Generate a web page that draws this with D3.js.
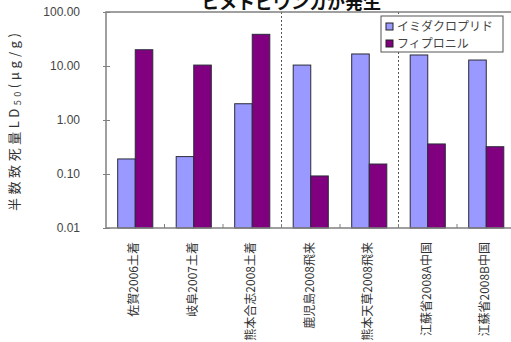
<!DOCTYPE html>
<html>
<head>
<meta charset="utf-8">
<script src="https://cdn.jsdelivr.net/npm/d3@7"></script>
<style>
  body { margin: 0; background: #fff; }
  svg { display: block; font-family: "Noto Sans CJK JP", sans-serif; }
</style>
</head>
<body>
<svg id="chart"></svg>
<script>
// Data
const categories = ["佐賀2006土着", "岐阜2007土着", "熊本合志2008土着", "鹿児島2008飛来",
                    "熊本天草2008飛来", "江蘇省2008A中国", "江蘇省2008B中国"]
const seriesNames = ["イミダクロプリド", "フィプロニル"]
const imidacloprid = [0.19, 0.21, 2.0, 10.4, 16.7, 16.0, 12.9]
const fipronil = [20, 10.4, 38.6, 0.092, 0.153, 0.36, 0.32]
const yTicks = [0.01, 0.1, 1, 10, 100]
const separatorsAfter = [2, 4]   // dashed lines after these category indices

// Canvas and plot area
const widthSvg = 511, heightSvg = 342
const margin = {top: 12, left: 106}
const bandStep = 58.5
const width = bandStep * categories.length
const height = 216
const colors = ["#9999ff", "#800080"]

const svg = d3.select("#chart")
    .attr("width", widthSvg)
    .attr("height", heightSvg)

const g = svg.append("g")
    .attr("transform", "translate(" + margin.left + "," + margin.top + ")")

// Scales
const xScale = d3.scaleBand()
    .domain(categories)
    .range([0, width])
    .paddingInner(0.4)
    .paddingOuter(0.2)

const xInner = d3.scaleBand()
    .domain(seriesNames)
    .range([0, xScale.bandwidth()])

const yScale = d3.scaleLog()
    .domain([0.01, 100])
    .range([height, 0])

// Title (cut off at the top of the picture, as in the source)
svg.append("text")
    .attr("x", 291)
    .attr("y", 9)
    .attr("text-anchor", "middle")
    .attr("font-size", "18px")
    .attr("font-weight", "bold")
    .attr("fill", "#111")
    .text("ヒメトビウンカが発生")

// Bars
const rows = categories.map((c, i) => ({cat: c, values: [imidacloprid[i], fipronil[i]]}))

const groups = g.selectAll(".grp")
    .data(rows)
    .enter()
    .append("g")
    .attr("transform", (d) => "translate(" + xScale(d.cat) + ",0)")

groups.selectAll("rect")
    .data((d) => d.values.map((v, j) => ({name: seriesNames[j], value: v, j: j})))
    .enter()
    .append("rect")
    .attr("x", (d) => xInner(d.name))
    .attr("y", (d) => yScale(d.value))
    .attr("width", xInner.bandwidth())
    .attr("height", (d) => height - yScale(d.value))
    .attr("fill", (d) => colors[d.j])
    .attr("stroke", "#2a2a3a")
    .attr("stroke-width", 1)

// Dashed separators
g.selectAll(".sep")
    .data(separatorsAfter)
    .enter()
    .append("line")
    .attr("x1", (d) => (d + 1) * bandStep)
    .attr("x2", (d) => (d + 1) * bandStep)
    .attr("y1", 0)
    .attr("y2", height)
    .attr("stroke", "#555")
    .attr("stroke-dasharray", "2,2")

// Frame: left, top, bottom
g.append("path")
    .attr("d", "M" + width + ",0H0V" + height + "H" + width)
    .attr("fill", "none")
    .attr("stroke", "#808080")
    .attr("stroke-width", 1.5)

// Y axis
const yAxis = d3.axisLeft(yScale)
    .tickValues(yTicks)
    .tickFormat(d3.format(".2f"))
    .tickSize(4)
    .tickPadding(22)

g.append("g")
    .call(yAxis)
    .call((a) => a.select(".domain").remove())
    .call((a) => a.selectAll("line").attr("x2", 4).attr("x1", -3).attr("stroke", "#808080"))
    .selectAll("text")
    .attr("font-family", "Liberation Sans, sans-serif")
    .attr("font-size", "12px")
    .attr("fill", "#444")

// Small category ticks on the bottom axis
g.selectAll(".xtick")
    .data(d3.range(1, categories.length))
    .enter()
    .append("line")
    .attr("x1", (d) => d * bandStep)
    .attr("x2", (d) => d * bandStep)
    .attr("y1", height)
    .attr("y2", height - 4)
    .attr("stroke", "#808080")

// X labels, vertical
g.selectAll(".xlab")
    .data(categories)
    .enter()
    .append("text")
    .attr("transform", (d) => "translate(" + (xScale(d) + xScale.bandwidth() / 2 + 3) + "," + (height + 14) + ") rotate(-90)")
    .attr("text-anchor", "end")
    .attr("font-size", "12px")
    .attr("fill", "#333")
    .text((d) => d)

// Y axis title
const yTitle = svg.append("text")
    .attr("transform", "translate(19,122) rotate(-90)")
    .attr("text-anchor", "middle")
    .attr("font-size", "13px")
    .attr("fill", "#333")
    .attr("textLength", 178)
    .attr("lengthAdjust", "spacing")
yTitle.append("tspan").text("半数致死量LD")
yTitle.append("tspan").attr("font-size", "9px").attr("dy", 2).text("50")
yTitle.append("tspan").attr("dy", -2).text("(μg/g)")

// Legend
const legend = svg.append("g").attr("transform", "translate(381,16)")
legend.append("rect")
    .attr("width", 122)
    .attr("height", 36)
    .attr("fill", "#fff")
    .attr("stroke", "#555")

seriesNames.forEach((name, i) => {
    legend.append("rect")
        .attr("x", 5)
        .attr("y", 7 + i * 17)
        .attr("width", 7)
        .attr("height", 7)
        .attr("fill", colors[i])
        .attr("stroke", "#222")
    legend.append("text")
        .attr("x", 16)
        .attr("y", 15 + i * 17)
        .attr("font-size", "12px")
        .attr("fill", "#444")
        .text(name)
})
</script>
</body>
</html>
